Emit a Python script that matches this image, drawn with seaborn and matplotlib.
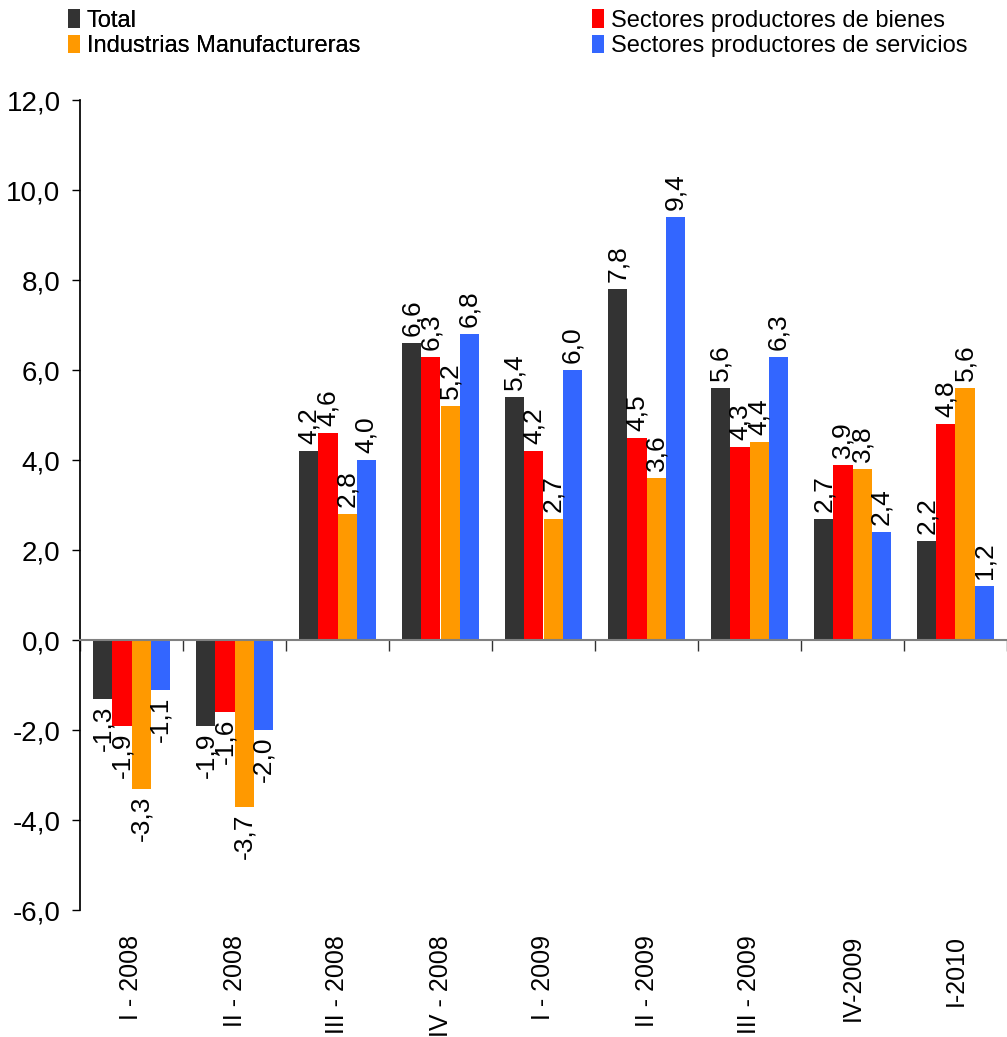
import numpy as np
import pandas as pd
import matplotlib
matplotlib.use("Agg")
import matplotlib.pyplot as plt
import seaborn as sns

# ── Data ───────────────────────────────────────────────────────
periodos = ["I - 2008", "II - 2008", "III - 2008", "IV - 2008", "I - 2009",
            "II - 2009", "III - 2009", "IV-2009", "I-2010"]
series = ["Total", "Sectores productores de bienes",
          "Industrias Manufactureras", "Sectores productores de servicios"]
total = [-1.3, -1.9, 4.2, 6.6, 5.4, 7.8, 5.6, 2.7, 2.2]
bienes = [-1.9, -1.6, 4.6, 6.3, 4.2, 4.5, 4.3, 3.9, 4.8]
manufactura = [-3.3, -3.7, 2.8, 5.2, 2.7, 3.6, 4.4, 3.8, 5.6]
servicios = [-1.1, -2.0, 4.0, 6.8, 6.0, 9.4, 6.3, 2.4, 1.2]
yticks = np.arange(-6, 13, 2)

colores = ["#333333", "#FF0000", "#FF9900", "#3366FF"]

df = pd.DataFrame({"periodo": periodos * 4,
                   "serie": np.repeat(series, len(periodos)),
                   "valor": total + bienes + manufactura + servicios})

# ── Style ──────────────────────────────────────────────────────
sns.set_theme(style="white")
plt.rcParams.update({
    "font.family": ["Liberation Sans", "DejaVu Sans"],
    "text.color": "black",
    "xtick.color": "black",
    "ytick.color": "black",
    "axes.labelcolor": "black",
})

fig = plt.figure(figsize=(10.07, 10.37), dpi=100)
ax = fig.add_axes([80 / 1007, 1 - 910 / 1037, 927 / 1007, 810 / 1037])

sns.barplot(data=df, x="periodo", y="valor", hue="serie", order=periodos,
            hue_order=series, palette=colores, width=0.74, saturation=1,
            linewidth=0, ax=ax)

fmt = lambda v: f"{v:.1f}".replace(".", ",")
for cont in ax.containers:
    ax.bar_label(cont, labels=[fmt(v) for v in cont.datavalues],
                 rotation=90, padding=5, fontsize=19)

ax.set_ylim(-6, 12)
ax.set_xlim(-0.5, len(periodos) - 0.5)
ax.set_yticks(yticks, labels=[fmt(v) for v in yticks], fontsize=20)
ax.tick_params(axis="y", direction="out", length=6, width=1, pad=8, left=True)
ax.set_xlabel(""); ax.set_ylabel("")

# zero line with group separators
for s in ["top", "right"]:
    ax.spines[s].set_visible(False)
ax.spines["left"].set_color("black")
ax.spines["bottom"].set_position(("data", 0))
ax.spines["bottom"].set_color("#808080")
ax.spines["bottom"].set_linewidth(1.5)
ax.set_xticks(np.arange(-0.5, len(periodos)), labels=[])
ax.tick_params(axis="x", direction="out", length=8, width=1, bottom=True, color="#333333")

sec = ax.secondary_xaxis(0.0)
sec.set_xticks(range(len(periodos)), labels=periodos, rotation=90, fontsize=18)
sec.spines["bottom"].set_visible(False)
sec.tick_params(axis="x", length=0, pad=18)

# legend: two separate columns
h, l = ax.get_legend_handles_labels()
ax.get_legend().remove()
kw = dict(loc="upper left", frameon=False, borderpad=0, labelspacing=0.13,
          handlelength=0.5, handleheight=0.85, handletextpad=0.3,
          borderaxespad=0, prop={"size": 17})
leg1 = fig.legend([h[0], h[2]], [l[0], l[2]],
                  bbox_to_anchor=(68 / 1007, 1 - 9 / 1037), **kw)
fig.add_artist(leg1)
fig.legend([h[1], h[3]], [l[1], l[3]],
           bbox_to_anchor=(592 / 1007, 1 - 9 / 1037), **kw)

fig.savefig("out.png", dpi=100, facecolor="white")
